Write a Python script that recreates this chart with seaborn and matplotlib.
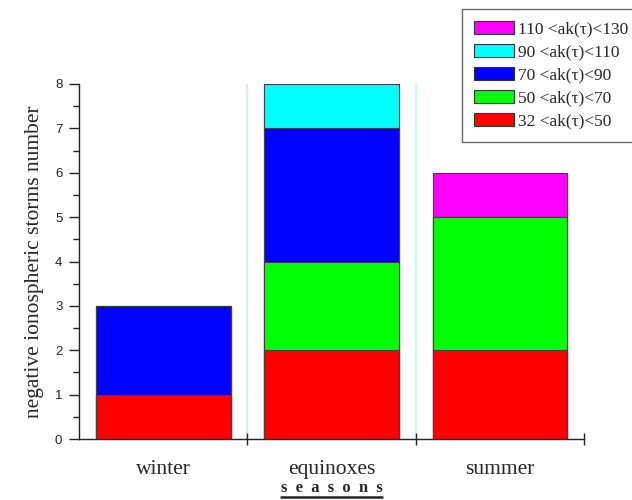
import numpy as np
import pandas as pd
import matplotlib
matplotlib.use("Agg")
import matplotlib.pyplot as plt
from matplotlib.patches import Patch
from matplotlib.lines import Line2D
import seaborn as sns

# Seasons and storm counts per ak(tau) class
seasons = ["winter", "equinoxes", "summer"]
ak_classes = ["32 <ak(\u03c4)<50", "50 <ak(\u03c4)<70", "70 <ak(\u03c4)<90",
              "90 <ak(\u03c4)<110", "110 <ak(\u03c4)<130"]
counts_32_50 = [1, 2, 2]
counts_50_70 = [0, 2, 3]
counts_70_90 = [2, 3, 0]
counts_90_110 = [0, 1, 0]
counts_110_130 = [0, 0, 1]
class_colors = ["#ff0000", "#00ff00", "#0000ff", "#00ffff", "#ff00ff"]

layers = [counts_32_50, counts_50_70, counts_70_90, counts_90_110, counts_110_130]
cumulative = np.cumsum(np.array(layers), axis=0)

sns.set_theme(style="white")
plt.rcParams["font.family"] = ["Liberation Sans", "DejaVu Sans"]

fig = plt.figure(figsize=(6.32, 5.0), dpi=100)
ax = fig.add_axes([79 / 632, 1 - 439 / 500, (584 - 79) / 632, (439 - 84) / 500])

# faint separators between season groups
for xs in (0.5, 1.5):
    ax.axvline(xs, color="#c8f2f8", lw=1.6, zorder=0)

# stacked bars: draw cumulative totals from the top class down
for i in range(len(layers) - 1, -1, -1):
    df = pd.DataFrame({"season": seasons, "value": cumulative[i]})
    sns.barplot(data=df, x="season", y="value", color=class_colors[i],
                saturation=1, width=0.8, edgecolor="#404040", linewidth=0.8,
                ax=ax, zorder=2)

ax.set_xlim(-0.5, 2.5)
ax.set_ylim(0, 8)

for side in ("top", "right"):
    ax.spines[side].set_visible(False)
for side in ("left", "bottom"):
    ax.spines[side].set_color("#222222")
    ax.spines[side].set_linewidth(1.0)

ax.set_yticks(np.arange(0, 9, 1))
ax.set_yticks(np.arange(0.5, 8, 1), minor=True)
ax.tick_params(axis="y", which="major", direction="out", length=7, width=1,
               color="#222222", labelsize=9.5, labelcolor="#222222", pad=5, left=True)
ax.tick_params(axis="y", which="minor", direction="out", length=4, width=1,
               color="#222222", left=True)

ax.set_xticks(range(len(seasons)))
ax.set_xticklabels(seasons, fontfamily="Liberation Serif", fontsize=15.5)
ax.set_xticks([0.5, 1.5, 2.5], minor=True)
ax.tick_params(axis="x", which="major", length=0, pad=15)
ax.tick_params(axis="x", which="minor", direction="inout", length=8, width=1,
               color="#222222", bottom=True)

ax.set_ylabel("negative ionospheric storms number", fontfamily="Liberation Serif",
              fontsize=15.5, labelpad=8)
xl = ax.set_xlabel("s  e  a  s  o  n  s", fontfamily="Liberation Serif", fontsize=12,
                   fontweight="bold", labelpad=1)

# legend, highest class on top
handles = [Patch(facecolor=class_colors[i], edgecolor="#333333", linewidth=0.8,
                 label=ak_classes[i]) for i in range(len(ak_classes) - 1, -1, -1)]
leg = fig.legend(handles=handles, loc="upper left",
                 bbox_to_anchor=(462 / 632, 1 - 9 / 500),
                 prop={"family": "Liberation Serif", "size": 12.5},
                 frameon=True, fancybox=False, shadow=False,
                 handlelength=2.3, handleheight=0.8, labelspacing=0.36,
                 handletextpad=0.25, borderpad=0.7, borderaxespad=0)
leg.get_frame().set_edgecolor("#444444")
leg.get_frame().set_linewidth(1.0)

# underline the axis title
fig.canvas.draw()
bb = xl.get_window_extent()
inv = fig.transFigure.inverted()
(x0, y0), (x1, _) = inv.transform([(bb.x0, bb.y0), (bb.x1, bb.y0)])
fig.add_artist(Line2D([x0, x1], [y0 - 1.0 / 500, y0 - 1.0 / 500],
                      transform=fig.transFigure, color="#222222", lw=1.8))

fig.savefig("out.png", dpi=100)
